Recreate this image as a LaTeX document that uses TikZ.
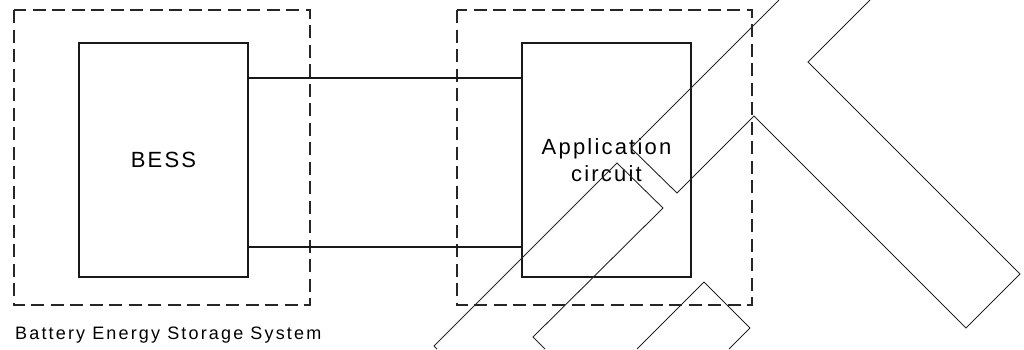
\documentclass[tikz,border=0pt]{standalone}
\usepackage{fontspec}
\setmainfont{Liberation Sans}
\begin{document}
\begin{tikzpicture}[x=1pt, y=-1pt,
    block/.style={draw=black!90, line width=2.3pt, minimum width=169pt, minimum height=234pt,
      inner sep=0pt, align=center, font=\fontsize{22}{27}\selectfont\addfontfeatures{LetterSpace=10}},
    zone/.style={draw=black!85, line width=1.1pt, dash pattern=on 13pt off 6.5pt},
    wire/.style={draw=black!90, line width=2.3pt},
    outline/.style={draw=black!85, line width=0.9pt, line join=miter}]
  \useasboundingbox (0,0) rectangle (1024,349);
  % Dashed zones
  \draw[zone] (14,10) rectangle (310,305);
  \draw[zone] (457,10) rectangle (752,305);
  % Blocks
  \node[block] (bess) at (163.5,160) {BESS};
  \node[block] (app) at (606.5,160) {Application\\circuit};
  % Wires
  \draw[wire] ([yshift=82pt]bess.east) -- ([yshift=82pt]app.west);
  \draw[wire] ([yshift=-87pt]bess.east) -- ([yshift=-87pt]app.west);
  % Label
  \node[anchor=base west, inner sep=0pt,
    font=\fontsize{18}{21}\selectfont\addfontfeatures{LetterSpace=12}] (syslabel) at (15,339)
    {Battery Energy Storage System};
  % Outlines
  \draw[outline] (870,0) -- (808,62) -- (1020,274) -- (966,328) -- (754,116)
    -- (677,193) -- (631,148) -- (779,0);
  \draw[outline] (437,349) -- (434,346) -- (617,163) -- (663,208) -- (533,337) -- (545,349);
  \draw[outline] (637,349) -- (704,282) -- (750,328) -- (729,349);
\end{tikzpicture}
\end{document}
